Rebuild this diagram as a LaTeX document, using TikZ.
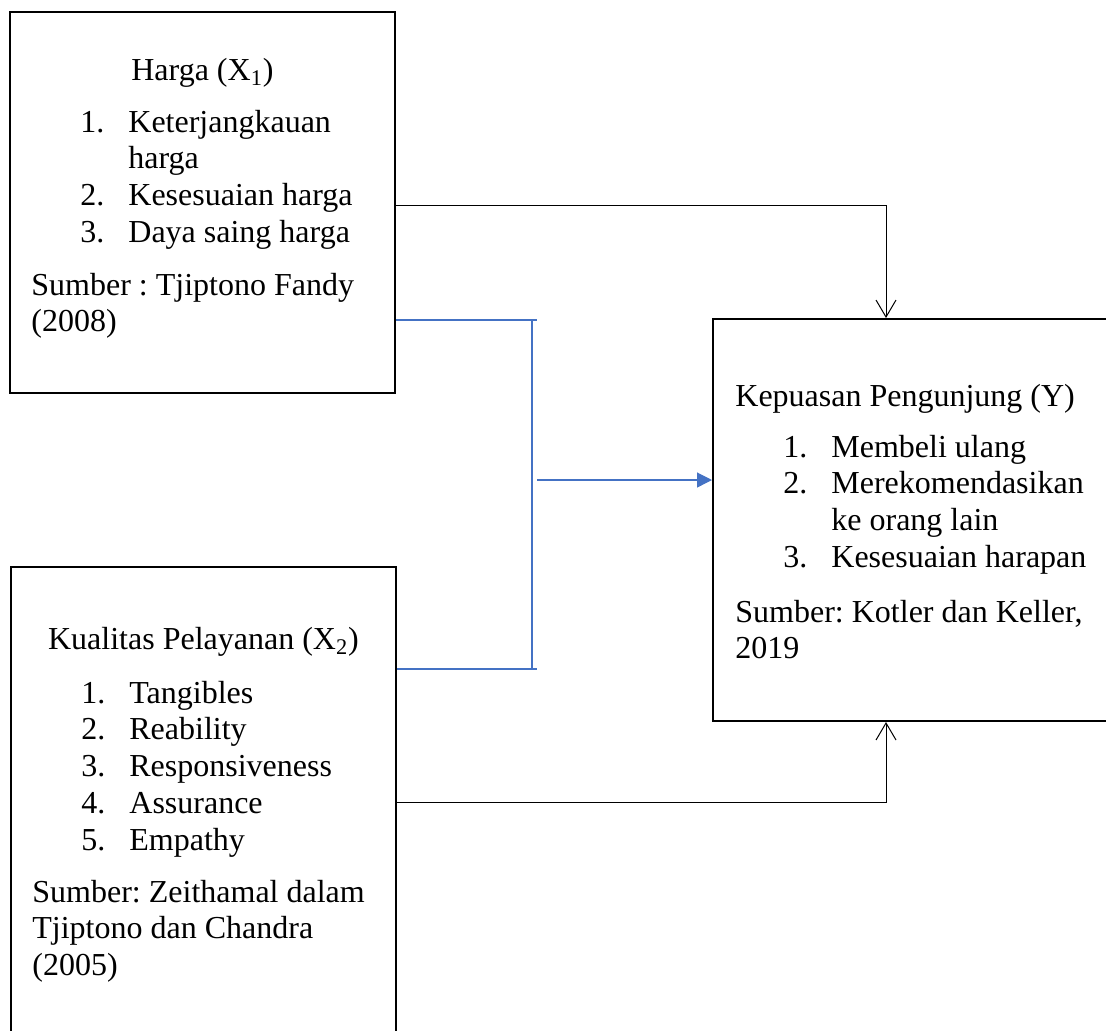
\documentclass[tikz,border=0pt]{standalone}
\usepackage{fontspec}
\setmainfont{Liberation Serif}
\usetikzlibrary{arrows.meta}
\definecolor{linkblue}{HTML}{4472C4}
\frenchspacing
\begin{document}
\begin{tikzpicture}[x=0.5pt,y=-0.5pt,
  box/.style={draw, line width=1pt, rectangle, inner sep=0pt},
  txt/.style={inner sep=0pt, font=\fontsize{16}{18.4}\selectfont},
  conn/.style={line width=0.5pt},
  blueconn/.style={draw=linkblue, line width=0.6pt},
  openhead/.style={-{Straight Barb[length=8.5pt,width=10pt]}},
  fillhead/.style={-{Triangle[length=7.5pt,width=7.5pt]}}]
\path[use as bounding box, clip] (0,0) rectangle (1106,1030);
% boxes
\node[box, minimum width=192.5pt, minimum height=190.5pt] (box1) at (202.5,202.5) {};
\node[box, minimum width=192.5pt, minimum height=241.5pt] (box2) at (203.5,808.5) {};
\node[box, minimum width=203.5pt, minimum height=201pt] (box3) at (916.5,520) {};
% box 1 text
\node[txt, anchor=base] (h1) at (202.5,80) {Harga (X\textsubscript{1})};
\node[txt, anchor=base west] (l1) at (80,132) {\begin{tabular}[t]{@{}p{24pt}@{}l@{}}
1. & Keterjangkauan\\
 & harga\\
2. & Kesesuaian harga\\
3. & Daya saing harga
\end{tabular}};
\node[txt, anchor=base west] (s1) at (31,295) {\begin{tabular}[t]{@{}l@{}}
Sumber : Tjiptono Fandy\\
(2008)
\end{tabular}};
% box 2 text
\node[txt, anchor=base] (h2) at (203.5,649) {Kualitas Pelayanan (X\textsubscript{2})};
\node[txt, anchor=base west] (l2) at (81,703) {\begin{tabular}[t]{@{}p{24pt}@{}l@{}}
1. & Tangibles\\
2. & Reability\\
3. & Responsiveness\\
4. & Assurance\\
5. & Empathy
\end{tabular}};
\node[txt, anchor=base west] (s2) at (32,902) {\begin{tabular}[t]{@{}l@{}}
Sumber: Zeithamal dalam\\
Tjiptono dan Chandra\\
(2005)
\end{tabular}};
% box 3 text
\node[txt, anchor=base west] (h3) at (735,406) {Kepuasan Pengunjung (Y)};
\node[txt, anchor=base west] (l3) at (783,457) {\begin{tabular}[t]{@{}p{24pt}@{}l@{}}
1. & Membeli ulang\\
2. & Merekomendasikan\\
 & ke orang lain\\
3. & Kesesuaian harapan
\end{tabular}};
\node[txt, anchor=base west] (s3) at (735,622) {\begin{tabular}[t]{@{}l@{}}
Sumber: Kotler dan Keller,\\
2019
\end{tabular}};
% black connectors
\coordinate (j1) at (886,205);
\coordinate (j2) at (886,802);
\draw[conn, openhead] (box1.east |- j1) -- (j1) -- (j1 |- box3.north);
\draw[conn, openhead] (box2.east |- j2) -- (j2) -- (j2 |- box3.south);
% blue connectors
\coordinate (b1) at (537,320);
\coordinate (b2) at (537,669);
\coordinate (v1) at (532,320);
\coordinate (v2) at (532,669);
\coordinate (bm) at (537,480);
\draw[blueconn] (box1.east |- b1) -- (b1);
\draw[blueconn] (box2.east |- b2) -- (b2);
\draw[blueconn] (v1) -- (v2);
\draw[blueconn, fillhead, fill=linkblue] (bm) -- (bm -| box3.west);
\end{tikzpicture}
\end{document}
